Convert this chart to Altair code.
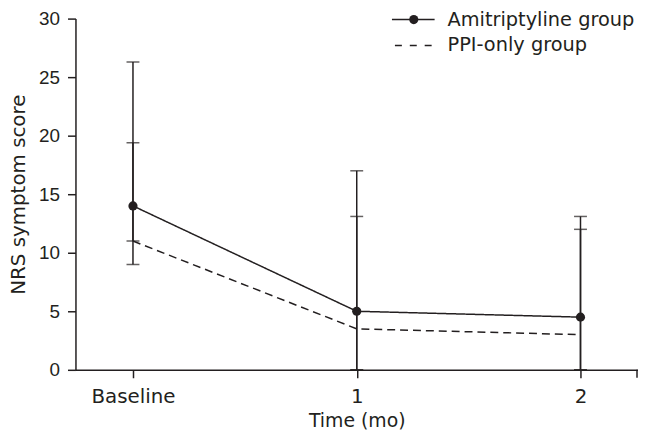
import altair as alt
import pandas as pd

times = ["Baseline", "1", "2"]
groups = ["Amitriptyline group", "PPI-only group"]
amit_mean = [14.0, 5.0, 4.5]
ppi_mean = [11.0, 3.5, 3.0]
amit_upper = [26.3, 17.0, 13.1]
ppi_upper = [19.4, 13.1, 12.0]
amit_lower = [11.0, 0.0, 0.0]
ppi_lower = [9.0, 0.0, 0.0]

INK = "#231f20"
FONT = "DejaVu Sans"
NUMFONT = "Liberation Sans"

rows = []
for i, t in enumerate(times):
    rows.append({"time": t, "group": groups[0], "mean": amit_mean[i], "lo": amit_lower[i], "hi": amit_upper[i]})
    rows.append({"time": t, "group": groups[1], "mean": ppi_mean[i], "lo": ppi_lower[i], "hi": ppi_upper[i]})
df = pd.DataFrame(rows)

W, H = 567, 354

x_enc = alt.X("time:N", sort=times, title="Time (mo)",
              scale=alt.Scale(type="point", padding=0.257),
              axis=alt.Axis(labelAngle=0, tickSize=8, labelPadding=9, titlePadding=5,
                            labelFont=FONT, labelFontSize=20, titleFont=FONT, titleFontSize=19))
y_enc = alt.Y("mean:Q", title="NRS symptom score",
              scale=alt.Scale(domain=[0, 30], nice=False),
              axis=alt.Axis(values=[0, 5, 10, 15, 20, 25, 30], tickSize=8, labelPadding=8,
                            titlePadding=10, grid=False,
                            labelFont=NUMFONT, labelFontSize=19, titleFont=FONT, titleFontSize=20))

base = alt.Chart(df)

whiskers = base.mark_rule(color=INK, strokeWidth=1.5).encode(
    x=x_enc, y=alt.Y("lo:Q"), y2="hi:Q")
caps_hi = base.mark_tick(color=INK, size=13, thickness=1.5).encode(x=x_enc, y="hi:Q")
caps_lo = base.mark_tick(color=INK, size=13, thickness=1.5).encode(x=x_enc, y="lo:Q")

lines = base.mark_line(color=INK, strokeWidth=1.5).encode(
    x=x_enc, y=y_enc,
    detail="group:N",
    strokeDash=alt.StrokeDash("group:N", scale=alt.Scale(domain=groups, range=[[1, 0], [8, 5]]), legend=None),
)
points = alt.Chart(df[df["group"] == groups[0]]).mark_point(
    filled=True, color=INK, size=85, opacity=1).encode(x=x_enc, y="mean:Q")

one = pd.DataFrame({"k": [0]})
end_tick = alt.Chart(one).mark_rule(color=INK, strokeWidth=1.5).encode(
    x=alt.value(W - 1), y=alt.value(H), y2=alt.value(H + 8))

R1, R2 = 1, 27
leg_line1 = alt.Chart(one).mark_rule(color=INK, strokeWidth=1.5).encode(
    x=alt.value(319), x2=alt.value(362), y=alt.value(R1))
leg_dot = alt.Chart(one).mark_point(filled=True, color=INK, size=85, opacity=1).encode(
    x=alt.value(341), y=alt.value(R1))
leg_line2 = alt.Chart(one).mark_rule(color=INK, strokeWidth=1.5, strokeDash=[7, 8]).encode(
    x=alt.value(322), x2=alt.value(359), y=alt.value(R2))
leg_t1 = alt.Chart(one).mark_text(align="left", baseline="middle", font=FONT, fontSize=19.5, color=INK).encode(
    x=alt.value(375), y=alt.value(R1), text=alt.value(groups[0]))
leg_t2 = alt.Chart(one).mark_text(align="left", baseline="middle", font=FONT, fontSize=19.5, color=INK).encode(
    x=alt.value(375), y=alt.value(R2), text=alt.value(groups[1]))

chart = alt.layer(
    whiskers, caps_hi, caps_lo, lines, points, end_tick,
    leg_line1, leg_dot, leg_line2, leg_t1, leg_t2
).properties(
    width=W, height=H,
    autosize=alt.AutoSizeParams(type="none"),
    padding={"left": 68, "top": 9, "right": 0, "bottom": 62},
).configure_view(stroke=None).configure_axis(
    domainColor=INK, tickColor=INK, labelColor=INK, titleColor=INK,
    domainWidth=1.5, tickWidth=1.5,
    titleFontWeight="normal",
)

chart.save("out.html", embed_options={"renderer": "svg", "actions": False})
